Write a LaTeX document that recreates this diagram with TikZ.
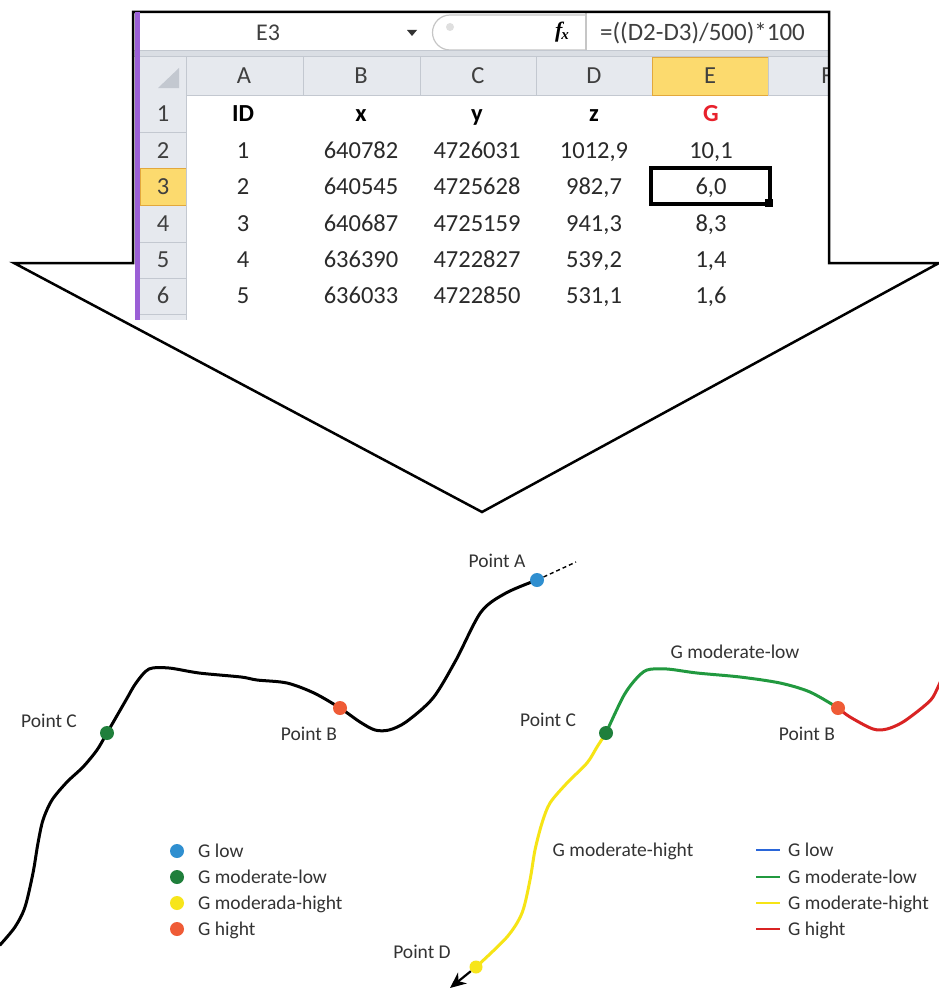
\documentclass[tikz,border=0pt]{standalone}
\usepackage{fontspec}
\setmainfont{Carlito}
\newfontfamily\fxfont{Liberation Serif}
\usetikzlibrary{arrows.meta}
\definecolor{purplebar}{HTML}{9B5FD6}
\definecolor{hdrfill}{HTML}{E6E9EE}
\definecolor{hdrline}{HTML}{C3C8D0}
\definecolor{yelfill}{HTML}{FCDA6E}
\definecolor{yelline}{HTML}{E2A83C}
\definecolor{hdrtxt}{HTML}{3F3F3F}
\definecolor{celltxt}{HTML}{2A2A2A}
\definecolor{gred}{HTML}{E8212C}
\definecolor{bandfill}{HTML}{DADEE4}
\definecolor{txtgray}{HTML}{333333}
\definecolor{dotblue}{HTML}{2F8FD0}
\definecolor{dotgreen}{HTML}{1F7F3B}
\definecolor{dotyellow}{HTML}{F7E51B}
\definecolor{dotorange}{HTML}{EF5B36}
\definecolor{cgreen}{HTML}{21993F}
\definecolor{cred}{HTML}{D92323}
\definecolor{cyellow}{HTML}{F6E415}
\definecolor{legblue}{HTML}{2A66D9}
\begin{document}
\begin{tikzpicture}[x=1pt,y=-1pt,
  lbl/.style={font=\fontsize{19.5}{22}\selectfont, text=txtgray, inner sep=0pt, text height=12.5pt, text depth=0pt},
  cell/.style={font=\fontsize{24.5}{28}\selectfont, text=celltxt, inner sep=0pt, text height=15.5pt, text depth=0pt},
  hdr/.style={cell, text=hdrtxt},
  bhdr/.style={cell, font=\fontsize{24.5}{28}\selectfont\bfseries, text=black},
  dot/.style={circle, inner sep=0pt, minimum size=14pt},
  curve/.style={line width=3pt, line cap=round, line join=round},
  legline/.style={line width=2.2pt},
  outline/.style={line width=2.5pt, line join=miter}]
\fill[white] (0,0) rectangle (939,990);
\useasboundingbox (0,0) rectangle (939,990);

% ---------- big arrow / spreadsheet frame ----------
\fill[white] (14,263) -- (133,263) -- (133,12) -- (829,12) -- (829,263) -- (939,263) -- (482,512) -- cycle;

% formula bar
\node[hdr, font=\fontsize{24}{28}\selectfont] (namebox) at (268,33) {E3};
\fill[txtgray] (407,30) -- (417,30) -- (412,36) -- cycle;
\draw[gray!45, line width=1.2pt] (586,15) -- (450,15) arc[start angle=270, end angle=90, radius=17.5] -- (586,50);
\draw[gray!45, line width=1.2pt] (586,13) -- (586,50);
\fill[gray!25] (450,27) circle[radius=4];
\node[inner sep=0pt] (fx) at (562,32) {\fxfont\fontsize{22}{24}\selectfont\bfseries\itshape f\kern-1pt\raisebox{-2pt}{\fontsize{15}{16}\selectfont x}};
\node[hdr, anchor=west, font=\fontsize{25}{28}\selectfont] (formula) at (600,33) {=((D2-D3)/500)*100};

% band between formula bar and headers
\fill[bandfill] (133,50) rectangle (829,57);
\draw[hdrline, line width=0.8pt] (133,50.5) -- (829,50.5);
\draw[hdrline, line width=0.8pt] (133,56.5) -- (829,56.5);

% column headers
\fill[hdrfill] (140,57) rectangle (829,95);
\fill[yelfill] (652,57) rectangle (768,95);
\draw[yelline, line width=1pt] (652,57.5) rectangle (768,95);
\foreach \cx in {186,303,420,536,768} \draw[hdrline, line width=1pt] (\cx,57) -- (\cx,95);
\draw[hdrline, line width=1pt] (140,95) -- (652,95) (768,95) -- (829,95);
\fill[hdrline] (158,88) -- (179,88) -- (179,68) -- cycle;
\node[hdr] (hA) at (244,76) {A};
\node[hdr] (hB) at (361,76) {B};
\node[hdr] (hC) at (478,76) {C};
\node[hdr] (hD) at (594,76) {D};
\node[hdr] (hE) at (710,76) {E};
\begin{scope}
\clip (768,57) rectangle (828,95);
\node[hdr] (hF) at (827,76) {F};
\end{scope}

% row headers
\fill[hdrfill] (140,95) rectangle (186,320);
\fill[yelfill] (140,168) rectangle (186,205);
\foreach \ry in {132,168,205,242,278,314} \draw[hdrline, line width=1pt] (140,\ry) -- (186,\ry);
\draw[yelline, line width=1pt] (140,168) rectangle (186,205);
\draw[hdrline, line width=1pt] (186,95) -- (186,320);
\foreach \n/\ry in {1/114,2/151,3/187,4/224,5/260,6/296}
  \node[hdr] (r\n) at (163,\ry) {\n};

% header row (row 1)
\node[bhdr] (cID) at (243,114) {ID};
\node[bhdr] (cx) at (361,114) {x};
\node[bhdr] (cy) at (477,114) {y};
\node[bhdr] (cz) at (594,114) {z};
\node[bhdr, text=gred] (cG) at (711,114) {G};

% data rows
\foreach \n/\ry/\va/\vb/\vc/\vd/\ve in {
  2/151/1/640782/4726031/{1012,9}/{10,1},
  3/187/2/640545/4725628/{982,7}/{6,0},
  4/224/3/640687/4725159/{941,3}/{8,3},
  5/260/4/636390/4722827/{539,2}/{1,4},
  6/296/5/636033/4722850/{531,1}/{1,6}}{
  \node[cell] (a\n) at (243,\ry) {\va};
  \node[cell] (b\n) at (361,\ry) {\vb};
  \node[cell] (c\n) at (477,\ry) {\vc};
  \node[cell] (d\n) at (594,\ry) {\vd};
  \node[cell] (e\n) at (711,\ry) {\ve};
}

% selected cell E3
\draw[line width=3.5pt] (651,168) rectangle (770,204);
\fill[black] (765,199) rectangle (773,207);

% frame outline
\draw[outline] (14,263) -- (133,263) -- (133,12) -- (829,12) -- (829,263) -- (939,263) -- (482,512) -- cycle;
\fill[purplebar] (135,12) rectangle (139.5,320);

% ---------- left profile (black) ----------
\draw[curve] plot[smooth, tension=0.5] coordinates {
 (0,945) (15,927) (25,907) (33,873) (38,843) (43,820) (52,800) (67,782) (83,767) (97,750) (107,733)
 (126,700) (136,683) (149,669) (169,668) (199,673) (241,677) (257,680) (287,683) (314,693) (340,708)
 (360,722) (375,730) (389,730) (406,722) (433,698) (456,660) (481,612) (506,593) (537,580)};
\coordinate (Aend) at (576,562);
\node[dot, fill=dotblue] (pA) at (537,580) {};
\draw[line width=1.4pt, dash pattern=on 4pt off 3pt] (pA) -- (Aend);
\node[dot, fill=dotorange] (pB) at (340,708) {};
\node[dot, fill=dotgreen] (pC) at (107,733) {};
\node[lbl] (tA) at (497,561) {Point A};
\node[lbl] (tB) at (309,734) {Point B};
\node[lbl] (tC) at (49,721) {Point C};

% left legend
\foreach \i/\ry/\col/\txt in {1/851/dotblue/G low,2/877/dotgreen/G moderate-low,3/903/dotyellow/G moderada-hight,4/929/dotorange/G hight}{
  \node[dot, fill=\col] (ld\i) at (177,\ry) {};
  \node[lbl, anchor=west] (lt\i) at (198,\ry) {\txt};
}

% ---------- right profile (coloured) ----------
\draw[curve, cyellow] plot[smooth, tension=0.5] coordinates {
 (606,733) (597,747) (587,763) (567,783) (550,803) (542,823) (535,850) (530,880) (522,913) (507,937) (476,967)};
\draw[curve, cgreen] plot[smooth, tension=0.5] coordinates {
 (606,733) (623,697) (635,680) (647,670) (667,669) (697,673) (740,677) (780,683) (810,692) (838,708)};
\draw[curve, cred] plot[smooth, tension=0.5] coordinates {
 (838,708) (850,717) (873,729) (887,729) (903,722) (923,707) (933,697) (942,678)};
\coordinate (Dend) at (450,988);
\node[dot, fill=dotyellow, minimum size=13pt] (pD) at (476,967) {};
\draw[line width=2.2pt, -{Stealth[length=16pt,width=14pt]}] (pD) -- (Dend);
\node[dot, fill=dotgreen] (qC) at (606,733) {};
\node[dot, fill=dotorange] (qB) at (838,708) {};
\node[lbl] (uC) at (548,720) {Point C};
\node[lbl] (uB) at (807,734) {Point B};
\node[lbl] (uD) at (422,952) {Point D};
\node[lbl] (uML) at (735,652) {G moderate-low};
\node[lbl] (uMH) at (623,850) {G moderate-hight};

% right legend
\foreach \i/\ry/\col/\txt in {1/850/legblue/G low,2/877/cgreen/G moderate-low,3/903/cyellow/G moderate-hight,4/929/cred/G hight}{
  \coordinate (ls\i) at (756,\ry);
  \coordinate (le\i) at (780,\ry);
  \draw[legline, \col] (ls\i) -- (le\i);
  \node[lbl, anchor=west] (rt\i) at (788,\ry) {\txt};
}
\end{tikzpicture}
\end{document}
